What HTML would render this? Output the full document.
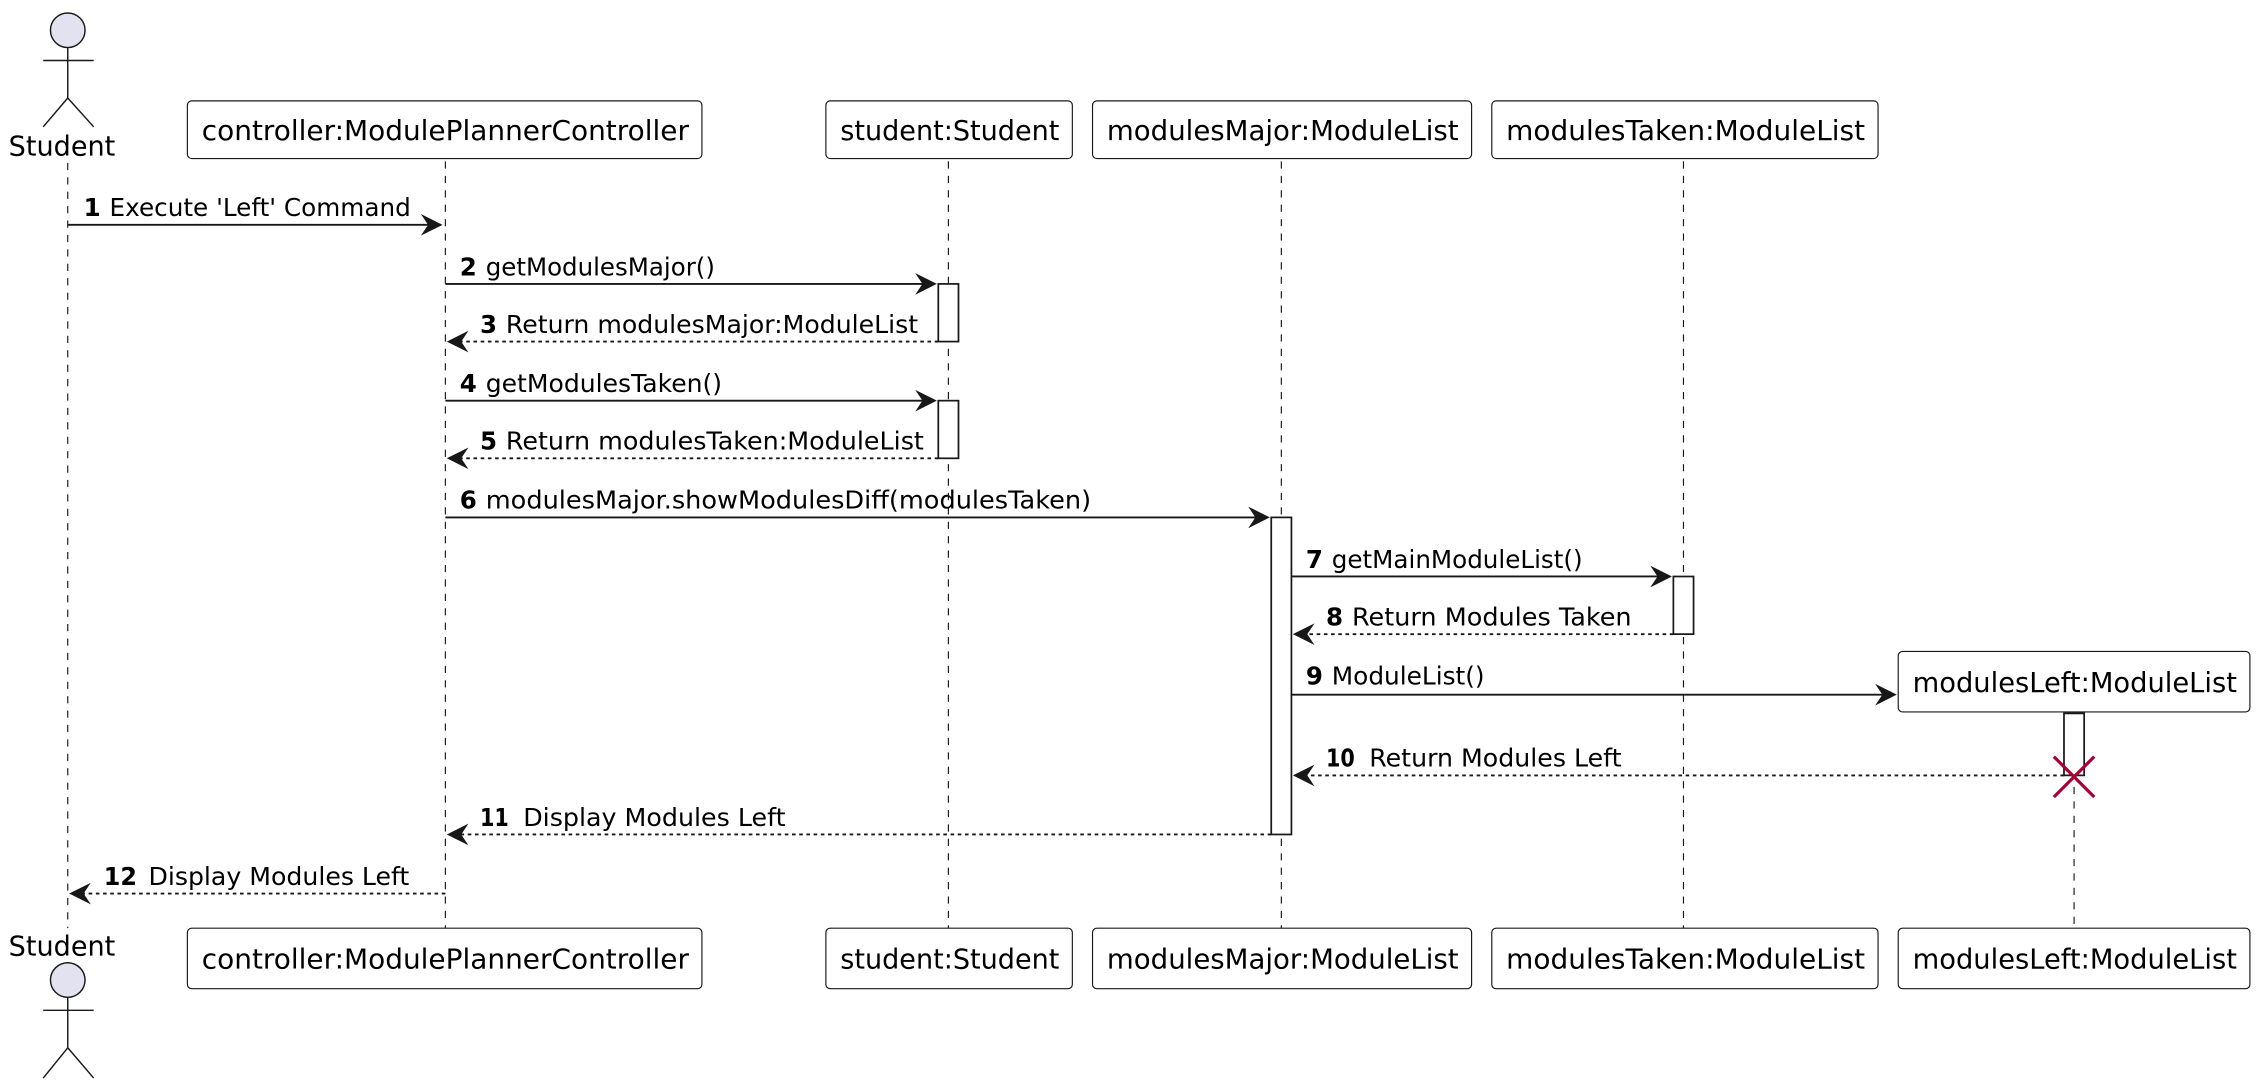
<!DOCTYPE html>
<html><head><meta charset="utf-8"><style>
html,body{margin:0;padding:0;background:#fff;}
svg{display:block;}
text{font-family:"DejaVu Sans","Liberation Sans",sans-serif;fill:#000;}
</style></head><body>
<svg width="2260" height="1090" viewBox="0 0 1568 756.3" preserveAspectRatio="none" xmlns="http://www.w3.org/2000/svg">
<defs>
<g id="ah"><polygon points="0,0 -15,-7.5 -10,0 -15,7.5" fill="#181818"/></g>
</defs>
<!-- lifelines -->
<g stroke="#181818" stroke-width="0.8" stroke-dasharray="5,5" fill="none">
<line x1="47" y1="113" x2="47" y2="644"/>
<line x1="309" y1="112" x2="309" y2="644"/>
<line x1="658" y1="112" x2="658" y2="644"/>
<line x1="889" y1="112" x2="889" y2="644"/>
<line x1="1168" y1="112" x2="1168" y2="644"/>
<line x1="1439" y1="546" x2="1439" y2="644"/>
</g>
<!-- actors -->
<g stroke="#181818" stroke-width="1" fill="none">
<circle cx="47" cy="21" r="12" fill="#E2E2F0"/>
<line x1="47" y1="33" x2="47" y2="68"/><line x1="30" y1="42" x2="65" y2="42"/>
<line x1="47" y1="68" x2="30" y2="88"/><line x1="47" y1="68" x2="65" y2="88"/>
<circle cx="47" cy="680" r="12" fill="#E2E2F0"/>
<line x1="47" y1="692" x2="47" y2="727"/><line x1="30" y1="701" x2="65" y2="701"/>
<line x1="47" y1="727" x2="30" y2="748"/><line x1="47" y1="727" x2="65" y2="748"/>
</g>
<text x="6" y="108" font-size="19" textLength="74" lengthAdjust="spacingAndGlyphs">Student</text>
<text x="6" y="663" font-size="19" textLength="74" lengthAdjust="spacingAndGlyphs">Student</text>
<!-- boxes -->
<g fill="#fff" stroke="#181818" stroke-width="0.8">
<rect x="130" y="70" width="357" height="40" rx="3"/>
<rect x="573" y="70" width="171" height="40" rx="3"/>
<rect x="758" y="70" width="263" height="40" rx="3"/>
<rect x="1035" y="70" width="268" height="40" rx="3"/>
<rect x="1317" y="452" width="244" height="42" rx="3"/>
<rect x="130" y="644" width="357" height="42" rx="3"/>
<rect x="573" y="644" width="171" height="42" rx="3"/>
<rect x="758" y="644" width="263" height="42" rx="3"/>
<rect x="1035" y="644" width="268" height="42" rx="3"/>
<rect x="1317" y="644" width="244" height="42" rx="3"/>
</g>
<g font-size="19">
<text x="140" y="97" textLength="338" lengthAdjust="spacingAndGlyphs">controller:ModulePlannerController</text>
<text x="583" y="97" textLength="152" lengthAdjust="spacingAndGlyphs">student:Student</text>
<text x="768" y="97" textLength="244" lengthAdjust="spacingAndGlyphs">modulesMajor:ModuleList</text>
<text x="1045" y="97" textLength="249" lengthAdjust="spacingAndGlyphs">modulesTaken:ModuleList</text>
<text x="1327" y="480" textLength="225" lengthAdjust="spacingAndGlyphs">modulesLeft:ModuleList</text>
<text x="140" y="672" textLength="338" lengthAdjust="spacingAndGlyphs">controller:ModulePlannerController</text>
<text x="583" y="672" textLength="152" lengthAdjust="spacingAndGlyphs">student:Student</text>
<text x="768" y="672" textLength="244" lengthAdjust="spacingAndGlyphs">modulesMajor:ModuleList</text>
<text x="1045" y="672" textLength="249" lengthAdjust="spacingAndGlyphs">modulesTaken:ModuleList</text>
<text x="1327" y="672" textLength="225" lengthAdjust="spacingAndGlyphs">modulesLeft:ModuleList</text>
</g>
<!-- activations -->
<g fill="#fff" stroke="#181818" stroke-width="1.2">
<rect x="651" y="197" width="14" height="40"/>
<rect x="651" y="278" width="14" height="40"/>
<rect x="882" y="359" width="14" height="220"/>
<rect x="1161" y="400" width="14" height="40"/>
<rect x="1432" y="495" width="14" height="43"/>
</g>
<!-- messages -->
<g stroke="#181818" stroke-width="1.3" fill="none">
<line x1="47" y1="156" x2="306" y2="156"/>
<line x1="309" y1="197" x2="648" y2="197"/>
<line x1="651" y1="237" x2="312" y2="237" stroke-dasharray="2.5,2.5"/>
<line x1="309" y1="278" x2="648" y2="278"/>
<line x1="651" y1="318" x2="312" y2="318" stroke-dasharray="2.5,2.5"/>
<line x1="309" y1="359" x2="879" y2="359"/>
<line x1="896" y1="400" x2="1158" y2="400"/>
<line x1="1161" y1="440" x2="899" y2="440" stroke-dasharray="2.5,2.5"/>
<line x1="896" y1="482" x2="1312" y2="482"/>
<line x1="1432" y1="538" x2="899" y2="538" stroke-dasharray="2.5,2.5"/>
<line x1="882" y1="579" x2="312" y2="579" stroke-dasharray="2.5,2.5"/>
<line x1="309" y1="620" x2="50" y2="620" stroke-dasharray="2.5,2.5"/>
</g>
<use href="#ah" transform="translate(307,156)"/>
<use href="#ah" transform="translate(650,197)"/>
<use href="#ah" transform="translate(310,237) scale(-1,1)"/>
<use href="#ah" transform="translate(650,278)"/>
<use href="#ah" transform="translate(310,318) scale(-1,1)"/>
<use href="#ah" transform="translate(881,359)"/>
<use href="#ah" transform="translate(1160,400)"/>
<use href="#ah" transform="translate(897,440) scale(-1,1)"/>
<use href="#ah" transform="translate(1316,482)"/>
<use href="#ah" transform="translate(897,538) scale(-1,1)"/>
<use href="#ah" transform="translate(310,579) scale(-1,1)"/>
<use href="#ah" transform="translate(48,620) scale(-1,1)"/>
<!-- destroy X -->
<g stroke="#A80036" stroke-width="2.2">
<line x1="1425" y1="525" x2="1453" y2="553"/><line x1="1453" y1="525" x2="1425" y2="553"/>
</g>
<!-- labels -->
<g font-size="17">
<text x="58" y="150" font-weight="bold">1</text><text x="76" y="150" textLength="209" lengthAdjust="spacingAndGlyphs">Execute 'Left' Command</text>
<text x="319" y="191" font-weight="bold">2</text><text x="337" y="191" textLength="159" lengthAdjust="spacingAndGlyphs">getModulesMajor()</text>
<text x="333" y="231" font-weight="bold">3</text><text x="351" y="231" textLength="286" lengthAdjust="spacingAndGlyphs">Return modulesMajor:ModuleList</text>
<text x="319" y="272" font-weight="bold">4</text><text x="337" y="272" textLength="164" lengthAdjust="spacingAndGlyphs">getModulesTaken()</text>
<text x="333" y="312" font-weight="bold">5</text><text x="351" y="312" textLength="290" lengthAdjust="spacingAndGlyphs">Return modulesTaken:ModuleList</text>
<text x="319" y="353" font-weight="bold">6</text><text x="337" y="353" textLength="420" lengthAdjust="spacingAndGlyphs">modulesMajor.showModulesDiff(modulesTaken)</text>
<text x="906" y="394" font-weight="bold">7</text><text x="924" y="394" textLength="174" lengthAdjust="spacingAndGlyphs">getMainModuleList()</text>
<text x="920" y="434" font-weight="bold">8</text><text x="938" y="434" textLength="194" lengthAdjust="spacingAndGlyphs">Return Modules Taken</text>
<text x="906" y="475" font-weight="bold">9</text><text x="924" y="475" textLength="106" lengthAdjust="spacingAndGlyphs">ModuleList()</text>
<text x="920" y="532" font-weight="bold" textLength="20" lengthAdjust="spacingAndGlyphs">10</text><text x="950" y="532" textLength="175" lengthAdjust="spacingAndGlyphs">Return Modules Left</text>
<text x="333" y="573" font-weight="bold" textLength="20" lengthAdjust="spacingAndGlyphs">11</text><text x="363" y="573" textLength="182" lengthAdjust="spacingAndGlyphs">Display Modules Left</text>
<text x="72" y="614" font-weight="bold" textLength="23" lengthAdjust="spacingAndGlyphs">12</text><text x="103" y="614" textLength="181" lengthAdjust="spacingAndGlyphs">Display Modules Left</text>
</g>
</svg>
</body></html>
